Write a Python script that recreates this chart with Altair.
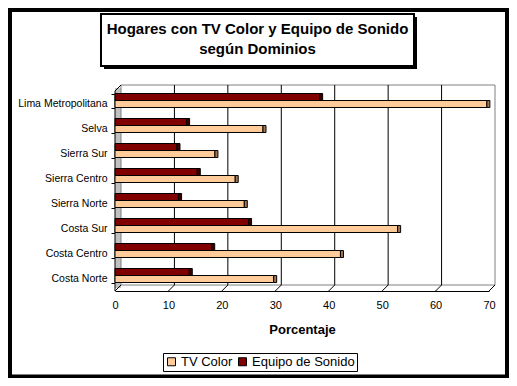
import altair as alt
import pandas as pd

DOMINIOS = ["Lima Metropolitana", "Selva", "Sierra Sur", "Sierra Centro",
            "Sierra Norte", "Costa Sur", "Costa Centro", "Costa Norte"]
TV_COLOR = [69.6, 27.7, 18.7, 22.5, 24.2, 52.9, 42.2, 29.7]
EQUIPO_SONIDO = [38.3, 13.4, 11.6, 15.4, 11.9, 25.0, 18.1, 13.9]
SERIES = ["TV Color", "Equipo de Sonido"]
TICKS = [0, 10, 20, 30, 40, 50, 60, 70]
GRID = [10, 20, 30, 40, 50, 60]
TITLE_LINES = ["Hogares con TV Color y Equipo de Sonido", "según Dominios"]
X_TITLE = "Porcentaje"

rows = []
for d, tv, es in zip(DOMINIOS, TV_COLOR, EQUIPO_SONIDO):
    rows.append({"Dominio": d, "Serie": SERIES[0], "Porcentaje": tv})
    rows.append({"Dominio": d, "Serie": SERIES[1], "Porcentaje": es})
df = pd.DataFrame(rows)
ticks_df = pd.DataFrame({"Porcentaje": TICKS})
grid_df = pd.DataFrame({"Porcentaje": GRID})
one = pd.DataFrame({"k": [0]})

FONT = "Liberation Sans"
W, H = 374, 200
xscale = alt.Scale(domain=[0, 70], nice=False)
X_AXIS = alt.Axis(values=TICKS, title=X_TITLE, offset=3, domain=True,
                  domainColor="black", ticks=False, grid=False, labelPadding=8,
                  labelFont=FONT, labelFontSize=11, labelColor="black",
                  titleFont=FONT, titleFontSize=13, titleFontWeight="bold",
                  titleColor="black", titlePadding=13, labelFlush=False)
Y_AXIS = alt.Axis(title=None, domain=False, ticks=True, tickBand="extent",
                  tickOffset=3, tickSize=4, tickColor="black",
                  labelOffset=3, labelPadding=4, labelFont=FONT,
                  labelFontSize=10.5, labelColor="black", grid=False)


def xq(field="Porcentaje"):
    return alt.X(f"{field}:Q", scale=xscale, axis=X_AXIS, title=X_TITLE)


# decorations (3D box)
frame = alt.Chart(one).mark_rect(filled=False, stroke="black", strokeWidth=4).encode(
    x=alt.value(-105), x2=alt.value(392), y=alt.value(-78), y2=alt.value(288.5))
side_wall = alt.Chart(one).mark_rect(fill="#C0C0C0").encode(
    x=alt.value(0), x2=alt.value(6), y=alt.value(0), y2=alt.value(200))
back_top = alt.Chart(one).mark_rule(color="#808080").encode(
    x=alt.value(6), x2=alt.value(380), y=alt.value(-3))
back_floor = alt.Chart(one).mark_rule(color="#808080").encode(
    x=alt.value(6), x2=alt.value(380), y=alt.value(197))
back_left = alt.Chart(one).mark_rule(color="#808080").encode(
    x=alt.value(6), y=alt.value(-3), y2=alt.value(197))
back_right = alt.Chart(one).mark_rule(color="#808080").encode(
    x=alt.value(380), y=alt.value(-3), y2=alt.value(197))
side_top = alt.Chart(one).mark_rule(color="black").encode(
    x=alt.value(0), x2=alt.value(6), y=alt.value(3), y2=alt.value(-3))
front_left = alt.Chart(one).mark_rule(color="black").encode(
    x=alt.value(0), y=alt.value(3), y2=alt.value(203))
grid = alt.Chart(grid_df).mark_rule(color="black", xOffset=6).encode(
    x=xq(), y=alt.value(-3), y2=alt.value(197))
slants = alt.Chart(ticks_df).mark_rule(color="black", x2Offset=6).encode(
    x=xq(), x2=alt.X2("Porcentaje:Q"), y=alt.value(203), y2=alt.value(197))

y_enc = alt.Y("Dominio:N", sort=DOMINIOS,
              scale=alt.Scale(paddingInner=0.44, paddingOuter=0.22), axis=Y_AXIS)
yoff = alt.YOffset("Serie:N", sort=["Equipo de Sonido", "TV Color"])

bars = alt.Chart(df).mark_bar(stroke="black", strokeWidth=1, opacity=1).encode(
    x=xq(),
    y=y_enc,
    yOffset=yoff,
    color=alt.Color("Serie:N", scale=alt.Scale(domain=SERIES, range=["#FFCC99", "#800000"]),
                    legend=alt.Legend(title=None, orient="none", legendX=48, legendY=265,
                                      direction="horizontal", symbolType="square",
                                      symbolSize=64, symbolStrokeColor="black",
                                      symbolStrokeWidth=1, labelFont=FONT, labelFontSize=13,
                                      labelColor="black", labelOffset=3, columnPadding=3,
                                      padding=2, strokeColor="black", fillColor="white")),
)
caps = alt.Chart(df).mark_rect(stroke="black", strokeWidth=1, x2Offset=3).encode(
    x=xq(), x2=alt.X2("Porcentaje:Q"),
    y=y_enc,
    yOffset=yoff,
    fill=alt.Fill("Serie:N", scale=alt.Scale(domain=SERIES, range=["#A07858", "#3A0000"]),
                  legend=None),
)

shadow = alt.Chart(one).mark_rect(fill="black").encode(
    x=alt.value(-11), x2=alt.value(302), y=alt.value(-71), y2=alt.value(-19))
box = alt.Chart(one).mark_rect(fill="white", stroke="black", strokeWidth=2).encode(
    x=alt.value(-14), x2=alt.value(299), y=alt.value(-74), y2=alt.value(-22))
t1 = alt.Chart(one).mark_text(font=FONT, fontSize=15, fontWeight="bold", color="black",
                              align="center", baseline="alphabetic").encode(
    x=alt.value(142.5), y=alt.value(-54), text=alt.value(TITLE_LINES[0]))
t2 = alt.Chart(one).mark_text(font=FONT, fontSize=15, fontWeight="bold", color="black",
                              align="center", baseline="alphabetic").encode(
    x=alt.value(142.5), y=alt.value(-34), text=alt.value(TITLE_LINES[1]))

chart = alt.layer(
    side_wall, back_top, back_floor, back_left, back_right, grid, slants, side_top,
    front_left, bars, caps, shadow, box, t1, t2, frame
).resolve_scale(color="independent", fill="independent").properties(
    width=W, height=H,
    padding={"left": 107, "top": 80, "right": 20, "bottom": 90},
    autosize=alt.AutoSizeParams(type="none"),
    background="white",
).configure_view(stroke=None)

chart.save("out.html", embed_options={"renderer": "svg", "actions": False})
